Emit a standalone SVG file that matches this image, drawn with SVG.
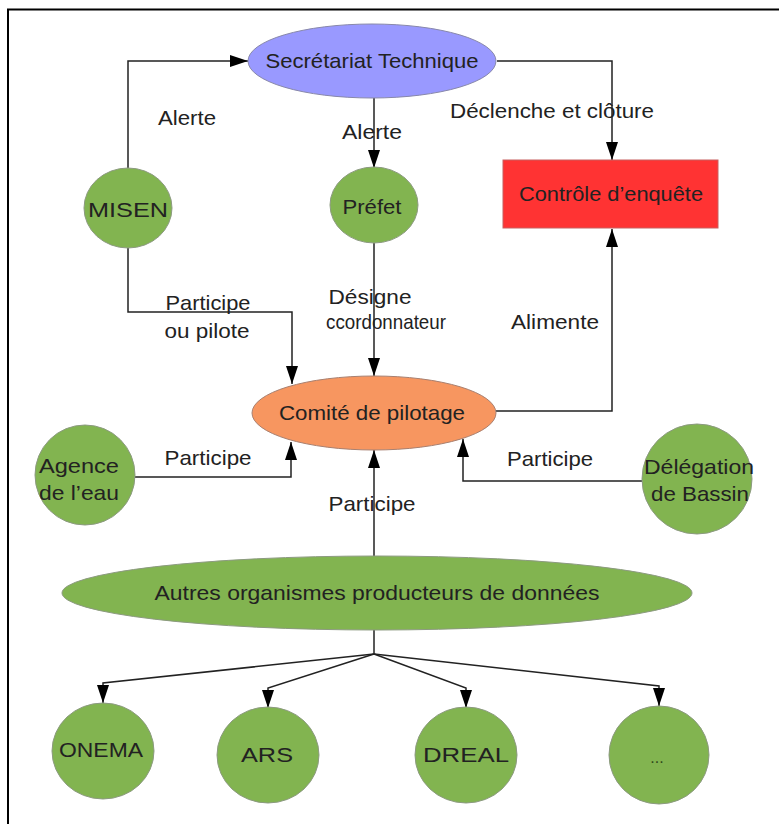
<svg xmlns="http://www.w3.org/2000/svg" width="779" height="824" viewBox="0 0 779 824">
<style>
  text { font-family: "Liberation Sans", Arial, sans-serif; font-size: 21px; fill: #222; text-anchor: middle; }
  .green { fill: #82b450; stroke: #8c9a80; stroke-width: 1; }
  .conn { fill: none; stroke: #222; stroke-width: 1.5; }
</style>
<defs>
  <marker id="arr" markerWidth="18" markerHeight="12" refX="18" refY="6" viewBox="0 0 18 12" orient="auto" markerUnits="userSpaceOnUse">
    <path d="M0,0 L18,6 L0,12 Z" fill="#000"/>
  </marker>
</defs>
<rect x="0" y="0" width="779" height="824" fill="#fff"/>
<path d="M8,824 V9.5 H779" fill="none" stroke="#000" stroke-width="2"/>

<g id="connectors">
  <path class="conn" d="M128,168 V61 H248" marker-end="url(#arr)"/>
  <path class="conn" d="M374,98 V168" marker-end="url(#arr)"/>
  <path class="conn" d="M497,61 H612 V160" marker-end="url(#arr)"/>
  <path class="conn" d="M128,248 V312 H292 V384" marker-end="url(#arr)"/>
  <path class="conn" d="M374,243 V376" marker-end="url(#arr)"/>
  <path class="conn" d="M496,411 H612 V229" marker-end="url(#arr)"/>
  <path class="conn" d="M135,477 H291 V442" marker-end="url(#arr)"/>
  <path class="conn" d="M642,481 H463 V439" marker-end="url(#arr)"/>
  <path class="conn" d="M374,557 V450" marker-end="url(#arr)"/>
  <path class="conn" d="M374,630 V654"/>
  <path class="conn" d="M374,654 L103,683 V703" marker-end="url(#arr)"/>
  <path class="conn" d="M374,654 L268,688 V708" marker-end="url(#arr)"/>
  <path class="conn" d="M374,654 L466,688 V708" marker-end="url(#arr)"/>
  <path class="conn" d="M374,654 L659,686 V706" marker-end="url(#arr)"/>
  <text x="187" y="125" textLength="58" lengthAdjust="spacingAndGlyphs">Alerte</text>
  <text x="372" y="139" textLength="60" lengthAdjust="spacingAndGlyphs">Alerte</text>
  <text x="552" y="118" textLength="204" lengthAdjust="spacingAndGlyphs">Déclenche et clôture</text>
  <text x="208" y="310" textLength="85" lengthAdjust="spacingAndGlyphs">Participe</text>
  <text x="207" y="338" textLength="85" lengthAdjust="spacingAndGlyphs">ou pilote</text>
  <text x="370" y="304" textLength="83" lengthAdjust="spacingAndGlyphs">Désigne</text>
  <text x="386" y="329" textLength="120" lengthAdjust="spacingAndGlyphs">ccordonnateur</text>
  <text x="555" y="329" textLength="88" lengthAdjust="spacingAndGlyphs">Alimente</text>
  <text x="208" y="465" textLength="87" lengthAdjust="spacingAndGlyphs">Participe</text>
  <text x="550" y="466" textLength="86" lengthAdjust="spacingAndGlyphs">Participe</text>
  <text x="372" y="511" textLength="87" lengthAdjust="spacingAndGlyphs">Participe</text>
</g>

<g id="secretariat">
  <ellipse cx="372" cy="61" rx="124" ry="37" fill="#9999ff" stroke="#8888aa" stroke-width="1"/>
  <text x="372" y="68" textLength="213" lengthAdjust="spacingAndGlyphs">Secrétariat Technique</text>
</g>
<g id="controle">
  <rect x="503" y="160" width="215" height="68" fill="#ff3333" stroke="#c86060" stroke-width="1"/>
  <text x="611" y="201" textLength="184" lengthAdjust="spacingAndGlyphs">Contrôle d’enquête</text>
</g>
<g id="misen">
  <ellipse class="green" cx="128" cy="208" rx="44" ry="40"/>
  <text x="128" y="217" textLength="80" lengthAdjust="spacingAndGlyphs">MISEN</text>
</g>
<g id="prefet">
  <ellipse class="green" cx="374" cy="205" rx="44" ry="38"/>
  <text x="372" y="214" textLength="59" lengthAdjust="spacingAndGlyphs">Préfet</text>
</g>
<g id="comite">
  <ellipse cx="374" cy="413" rx="122" ry="37" fill="#f79660" stroke="#a88070" stroke-width="1"/>
  <text x="372" y="420" textLength="186" lengthAdjust="spacingAndGlyphs">Comité de pilotage</text>
</g>
<g id="agence">
  <ellipse class="green" cx="85" cy="475" rx="50" ry="50"/>
  <text x="79" y="473" textLength="80" lengthAdjust="spacingAndGlyphs">Agence</text>
  <text x="79" y="500" textLength="80" lengthAdjust="spacingAndGlyphs">de l’eau</text>
</g>
<g id="delegation">
  <ellipse class="green" cx="697" cy="479" rx="55" ry="55"/>
  <text x="699" y="474" textLength="110" lengthAdjust="spacingAndGlyphs">Délégation</text>
  <text x="700" y="501" textLength="98" lengthAdjust="spacingAndGlyphs">de Bassin</text>
</g>
<g id="autres">
  <ellipse class="green" cx="377" cy="593" rx="315" ry="37"/>
  <text x="377" y="600" textLength="445" lengthAdjust="spacingAndGlyphs">Autres organismes producteurs de données</text>
</g>
<g id="onema">
  <ellipse class="green" cx="103" cy="751" rx="51" ry="48"/>
  <text x="101" y="757" textLength="84" lengthAdjust="spacingAndGlyphs">ONEMA</text>
</g>
<g id="ars">
  <ellipse class="green" cx="268" cy="755" rx="51" ry="48"/>
  <text x="267" y="762" textLength="52" lengthAdjust="spacingAndGlyphs">ARS</text>
</g>
<g id="dreal">
  <ellipse class="green" cx="466" cy="755" rx="51" ry="48"/>
  <text x="466" y="762" textLength="86" lengthAdjust="spacingAndGlyphs">DREAL</text>
</g>
<g id="more">
  <ellipse class="green" cx="659" cy="755" rx="50" ry="49"/>
  <text x="657" y="763" style="font-size:16px;fill:#2f4a1a">...</text>
</g>
</svg>
